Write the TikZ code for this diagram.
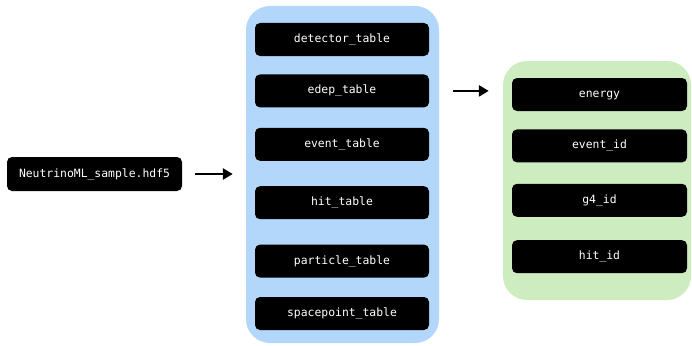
\documentclass[tikz,border=0pt]{standalone}
\usepackage{fontspec}
\setmonofont{DejaVu Sans Mono}
\usepackage{xcolor}
\usepackage{tikz}
\usetikzlibrary{arrows.meta, positioning}

\definecolor{tablesblue}{RGB}{179,215,251}
\definecolor{fieldsgreen}{RGB}{205,237,193}

\begin{document}
\begin{tikzpicture}
            % Block style
            \tikzstyle{block} = [rectangle, rounded corners=5pt, fill=black, text=white, font=\ttfamily\fontsize{11.4}{13}\selectfont, text height=8.5pt, text depth=2.5pt, minimum width=174pt, minimum height=33pt, inner sep=0pt]
            \tikzstyle{panel} = [rectangle, rounded corners=24pt, inner sep=0pt]
            \tikzstyle{arrow} = [-{Triangle[length=10pt, width=11pt]}, line width=2.6pt]

            \useasboundingbox (0,0) rectangle (692pt,-345pt);

            % Panels
            \node[panel, fill=tablesblue, minimum width=193pt, minimum height=337pt] (tables) at (342.5pt,-174.5pt) {};
            \node[panel, fill=fieldsgreen, minimum width=188pt, minimum height=239pt] (fields) at (597pt,-180.5pt) {};

            % Input file
            \node[block, minimum width=175pt, minimum height=34pt] (sample) at (94.5pt,-174pt) {NeutrinoML\_sample.hdf5};

            % Tables
            \node[block] (detector) at (342pt,-39.5pt) {detector\_table};
            \node[block, below=18pt of detector] (edep) {edep\_table};
            \node[block, below=20pt of edep] (event) {event\_table};
            \node[block, below=25pt of event] (hit) {hit\_table};
            \node[block, below=25pt of hit] (particle) {particle\_table};
            \node[block, below=19pt of particle] (spacepoint) {spacepoint\_table};

            % Fields of edep_table
            \node[block, minimum width=175pt] (energy) at (599.5pt,-94.5pt) {energy};
            \node[block, minimum width=175pt, below=18pt of energy] (event_id) {event\_id};
            \node[block, minimum width=175pt, below=21pt of event_id] (g4_id) {g4\_id};
            \node[block, minimum width=175pt, below=23pt of g4_id] (hit_id) {hit\_id};

            % Connections
            \draw[arrow, shorten <=13pt, shorten >=13pt] (sample.east) -- (sample.east -| tables.west);
            \draw[arrow, shorten <=14pt, shorten >=14pt] (edep.east -| tables.east) -- (edep.east -| fields.west);
        \end{tikzpicture}
\end{document}
